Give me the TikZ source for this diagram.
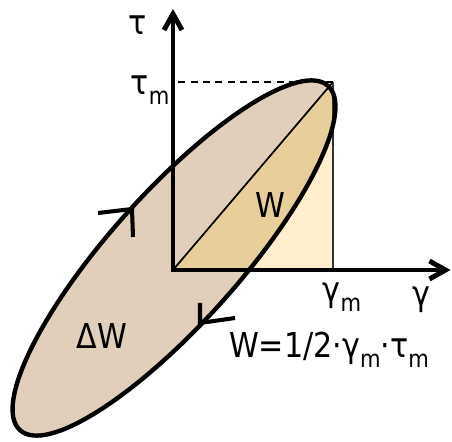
\documentclass[tikz,border=0pt]{standalone}
\usepackage{fontspec}
\setmainfont{DejaVu Sans}[FakeStretch=0.88]
\definecolor{loopbeige}{HTML}{E1CFBC}
\definecolor{workdark}{HTML}{E8CE9B}
\definecolor{worklight}{HTML}{FFEFCF}
\usepackage{tikz}
\usetikzlibrary{
    arrows.meta,
    calc
}
\newcommand{\subm}{\raisebox{-0.28em}{\scalebox{0.7}{m}}}
\tikzstyle{axis} = [
    {Straight Barb[length=0.32cm, width=0.36cm]}-{Straight Barb[length=0.32cm, width=0.36cm]},
    line width=2.8pt,
    line join=miter
]
\tikzstyle{hystframe} = [
    rotate around={48.2:(0.02,0.24)}
]
\tikzstyle{chevron} = [
    line width=2.3pt,
    line join=miter
]

\begin{document}
\begin{tikzpicture}[every node/.style={font=\fontsize{19.5}{23}\selectfont, inner sep=0pt}]
        \useasboundingbox (-3.46,-3.44) rectangle (5.58,5.4);
        % Points
        \coordinate (O) at (0,0);
        \coordinate (M) at (3.2,3.76);
        \coordinate (G) at (3.2,0);
        \coordinate (T) at (0,3.76);

        % Loop and work areas
        \fill[loopbeige, hystframe] (0.02,0.24) ellipse [x radius=4.62, y radius=1.3];
        \fill[worklight] (O) -- (G) -- (M) -- cycle;
        \begin{scope}
            \clip[hystframe] (0.02,0.24) ellipse [x radius=4.62, y radius=1.3];
            \fill[workdark] (O) -- (G) -- (M) -- cycle;
        \end{scope}
        \draw[line width=1pt] (O) -- (M);
        \draw[line width=0.8pt, black!80] (M) -- (G);
        \draw[line width=2.5pt, hystframe] (0.02,0.24) ellipse [x radius=4.62, y radius=1.3];

        % Direction marks
        \coordinate (A1) at (-0.82,1.22);
        \coordinate (A2) at (0.54,-1.06);
        \draw[chevron] (-1.5,1.14) -- (A1) -- (-0.8,0.66);
        \draw[chevron] (0.54,-0.66) -- (A2) -- (1.24,-0.96);

        % Axes
        \draw[line width=0.8pt, dash pattern=on 4pt off 3pt] (M) -- (T);
        \draw[axis] (0,5.22) -- (O) -- (5.55,0);

        % Labels
        \node (tau) at (-0.7,4.9) {τ};
        \node (taum) at (-0.46,3.6) {τ\subm};
        \node (gammam) at (3.38,-0.54) {γ\subm};
        \node (gamma) at (4.96,-0.6) {γ};
        \node (work) at (1.94,1.3) {W};
        \node (loss) at (-1.42,-1.32) {ΔW};
        \node (formula) at (3.12,-1.6) {W=1/2·γ\subm·τ\subm};
    \end{tikzpicture}
\end{document}
